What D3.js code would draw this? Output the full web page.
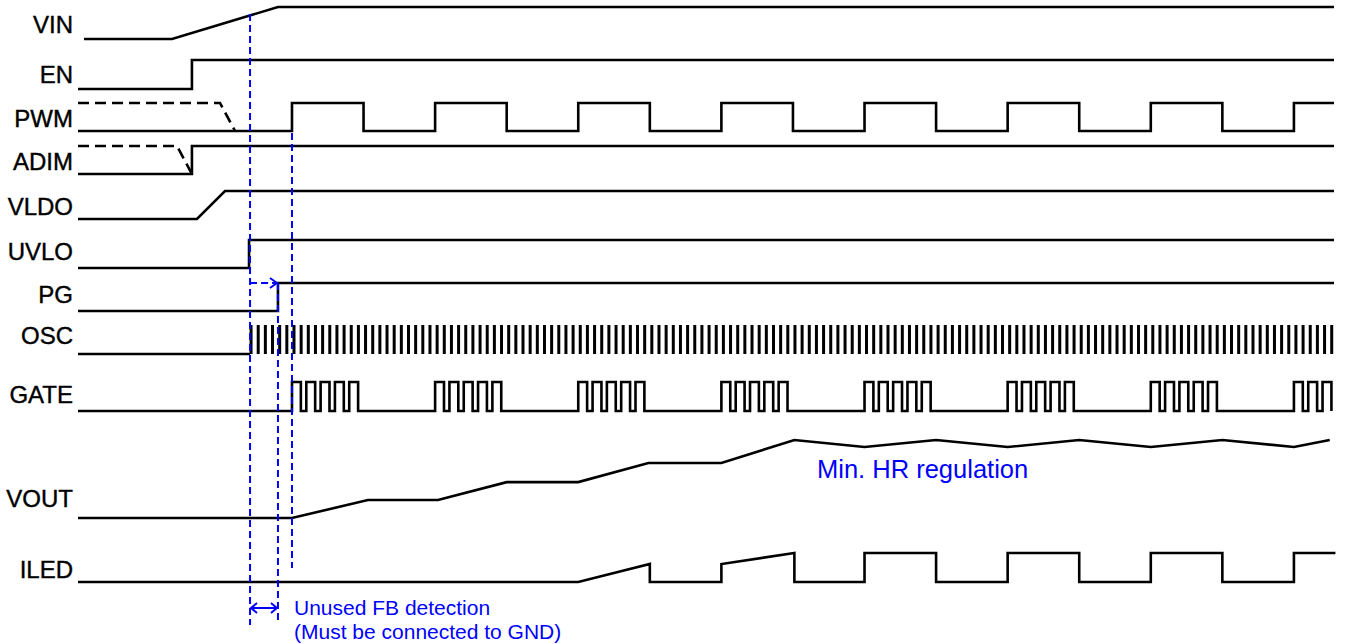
<!DOCTYPE html>
<html>
<head>
<meta charset="utf-8">
<script src="https://cdn.jsdelivr.net/npm/d3@7"></script>
<style>
  body { margin: 0; background: #fff; }
  svg { display: block; }
</style>
</head>
<body>
<svg id="chart"></svg>
<script>
// time is in PWM periods, 0 = first PWM rising edge; level 0 = low, 1 = high
var signalNames = ["VIN", "EN", "PWM", "ADIM", "VLDO", "UVLO", "PG", "OSC", "GATE", "VOUT", "ILED"];

var tStart = -1.495, tEnd = 7.28;

var vinWave   = [[-1.453, 0], [-0.838, 0], [-0.098, 1], [7.28, 1]];
var enWave    = [[-1.495, 0], [-0.699, 0], [-0.699, 1], [7.28, 1]];
var pwmDashed = [[-1.495, 1], [-0.503, 1], [-0.398, 0]];
var pwmEdges  = [0, 0.5, 1, 1.5, 2, 2.5, 3, 3.5, 4, 4.5, 5, 5.5, 6, 6.5, 7];
var adimDashed = [[-1.495, 1], [-0.803, 1], [-0.699, 0]];
var adimWave  = [[-1.495, 0], [-0.699, 0], [-0.699, 1], [7.28, 1]];
var vldoWave  = [[-1.495, 0], [-0.664, 0], [-0.468, 1], [7.28, 1]];
var uvloWave  = [[-1.495, 0], [-0.300, 0], [-0.300, 1], [7.28, 1]];
var pgWave    = [[-1.495, 0], [-0.098, 0], [-0.098, 1], [7.28, 1]];

var oscStart = -0.293, oscPeriod = 0.05, oscStop = 7.26;

var gateBursts = [0, 1, 2, 3, 4, 5, 6, 7];
var gatePulseOffsets = [0, 0.1, 0.2, 0.3, 0.4];
var gateHigh = 0.062;

var voutWave = [[-1.495, 0], [0, 0], [0.53, 0.23], [1.02, 0.23], [1.5, 0.46], [2.0, 0.46],
                [2.49, 0.705], [3.0, 0.705], [3.51, 1.0], [4.0, 0.91], [4.5, 1.0], [5.0, 0.91],
                [5.5, 1.0], [6.0, 0.91], [6.5, 1.0], [7.0, 0.91], [7.25, 1.0]];

var iledWave = [[-1.495, 0], [2.0, 0], [2.5, 0.62], [2.5, 0], [3.0, 0], [3.0, 0.62], [3.51, 1], [3.51, 0],
                [4.0, 0], [4.0, 1], [4.5, 1], [4.5, 0], [5.0, 0], [5.0, 1], [5.5, 1], [5.5, 0],
                [6.0, 0], [6.0, 1], [6.5, 1], [6.5, 0], [7.0, 0], [7.0, 1], [7.29, 1]];

var markerTimes = [-0.293, -0.098, 0];
var fbNote = ["Unused FB detection", "(Must be connected to GND)"];
var hrNote = "Min. HR regulation";

var width = 1349, height = 644;

// pixel rows: [low, high]
var rowLow  = [39, 89, 131, 174, 219, 268, 311, 354, 411, 518, 582];
var rowHigh = [7, 60, 103, 146, 191, 240, 283, 325, 382, 440, 553];
var labelBase = [33, 83, 127, 170, 215, 260, 303, 344, 403, 507, 578];

var svg = d3.select("#chart").attr("width", width).attr("height", height);
svg.append("rect").attr("width", width).attr("height", height).attr("fill", "#fff");

var x = d3.scaleLinear().domain([tStart, tEnd]).range([78, 1334]);
var yRow = {};
signalNames.forEach(function(n, i) {
  yRow[n] = d3.scaleLinear().domain([0, 1]).range([rowLow[i], rowHigh[i]]);
});

function lineFor(name) {
  return d3.line().x(function(d) { return x(d[0]); }).y(function(d) { return yRow[name](d[1]); });
}

var waves = svg.append("g")
  .attr("fill", "none")
  .attr("stroke", "#000")
  .attr("stroke-width", 2.6)
  .attr("stroke-linejoin", "miter");

function drawWave(name, pts, dashed) {
  var p = waves.append("path").attr("d", lineFor(name)(pts));
  if (dashed) p.attr("stroke-dasharray", "11,6");
  return p;
}

// build stepped waveforms from edge lists
var pwmWave = [[tStart, 0]];
pwmEdges.forEach(function(t, i) {
  var from = i % 2 === 0 ? 0 : 1;
  pwmWave.push([t, from], [t, 1 - from]);
});
pwmWave.push([tEnd, pwmEdges.length % 2 === 1 ? 1 : 0]);

var gateWave = [[tStart, 0]];
gateBursts.forEach(function(b) {
  gatePulseOffsets.forEach(function(o) {
    var r = b + o;
    if (r > tEnd) return;
    gateWave.push([r, 0], [r, 1], [r + gateHigh, 1], [r + gateHigh, 0]);
  });
});

var oscTimes = d3.range(oscStart, oscStop, oscPeriod);

drawWave("VIN", vinWave);
drawWave("EN", enWave);
drawWave("PWM", pwmDashed, true);
drawWave("PWM", pwmWave);
drawWave("ADIM", adimDashed, true);
drawWave("ADIM", adimWave);
drawWave("VLDO", vldoWave);
drawWave("UVLO", uvloWave);
drawWave("PG", pgWave);
drawWave("OSC", [[tStart, 0], [oscStart, 0]]);
waves.selectAll("line.osc")
  .data(oscTimes)
  .enter().append("line")
  .attr("class", "osc")
  .attr("x1", function(d) { return x(d) + 1; })
  .attr("x2", function(d) { return x(d) + 1; })
  .attr("y1", yRow.OSC(0))
  .attr("y2", yRow.OSC(1))
  .attr("stroke-width", 3);
drawWave("GATE", gateWave);
drawWave("VOUT", voutWave);
drawWave("ILED", iledWave);

// labels
svg.append("g").selectAll("text")
  .data(signalNames)
  .enter().append("text")
  .attr("x", 73)
  .attr("y", function(d, i) { return labelBase[i]; })
  .attr("text-anchor", "end")
  .attr("font-family", "Liberation Sans, Arial, sans-serif")
  .attr("font-size", 24)
  .attr("fill", "#000")
  .attr("stroke", "#000")
  .attr("stroke-width", 0.4)
  .text(function(d) { return d; });

// blue markers
var blue = "#0000ff";
var marks = svg.append("g").attr("stroke", blue).attr("fill", "none").attr("stroke-width", 2);
var markerSpan = [[14, 625], [283, 622], [133, 568]];
marks.selectAll("line.mk")
  .data(markerTimes)
  .enter().append("line")
  .attr("class", "mk")
  .attr("x1", function(d) { return x(d); })
  .attr("x2", function(d) { return x(d); })
  .attr("y1", function(d, i) { return markerSpan[i][0]; })
  .attr("y2", function(d, i) { return markerSpan[i][1]; })
  .attr("stroke-dasharray", "7,4");

// UVLO -> PG delay arrow
var pgY = yRow.PG(1);
marks.append("line")
  .attr("x1", x(markerTimes[0])).attr("x2", x(markerTimes[1]) - 1)
  .attr("y1", pgY).attr("y2", pgY)
  .attr("stroke-dasharray", "7,4");
marks.append("path")
  .attr("d", "M" + (x(markerTimes[1]) - 8) + "," + (pgY - 5) + "L" + (x(markerTimes[1]) - 1) + "," + pgY +
             "L" + (x(markerTimes[1]) - 8) + "," + (pgY + 5));

// FB detection double arrow
var arrY = 608, ax0 = x(markerTimes[0]) + 1, ax1 = x(markerTimes[1]) - 1;
marks.append("line").attr("x1", ax0).attr("x2", ax1).attr("y1", arrY).attr("y2", arrY);
marks.append("path").attr("d", "M" + (ax0 + 6) + "," + (arrY - 5) + "L" + ax0 + "," + arrY + "L" + (ax0 + 6) + "," + (arrY + 5));
marks.append("path").attr("d", "M" + (ax1 - 6) + "," + (arrY - 5) + "L" + ax1 + "," + arrY + "L" + (ax1 - 6) + "," + (arrY + 5));

svg.append("g").selectAll("text")
  .data(fbNote)
  .enter().append("text")
  .attr("x", 294)
  .attr("y", function(d, i) { return 615 + i * 24; })
  .attr("font-family", "Liberation Sans, Arial, sans-serif")
  .attr("font-size", 21)
  .attr("fill", blue)
  .text(function(d) { return d; });

svg.append("text")
  .attr("x", x(3.668))
  .attr("y", 478)
  .attr("font-family", "Liberation Sans, Arial, sans-serif")
  .attr("font-size", 25.5)
  .attr("fill", blue)
  .text(hrNote);
</script>
</body>
</html>
